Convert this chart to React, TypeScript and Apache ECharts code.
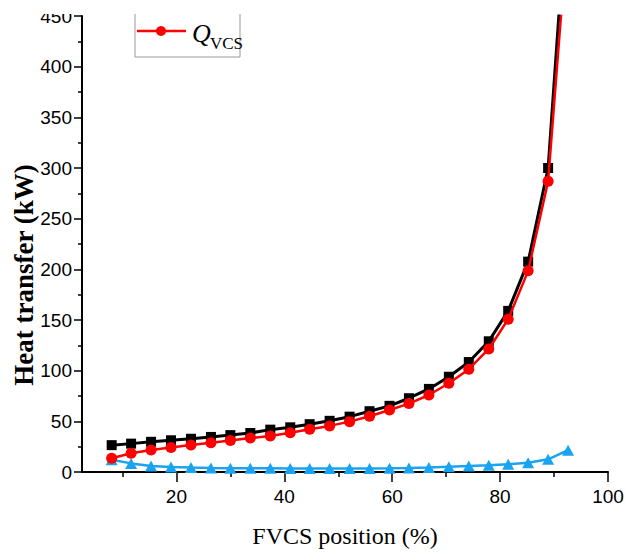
import React, { useEffect, useRef } from "react";
import * as echarts from "echarts";

// FVCS position (%) for each measured point
const positions = [8.0, 11.6, 15.3, 19.0, 22.7, 26.4, 30.0, 33.7, 37.4, 41.1, 44.7, 48.4, 52.1, 55.8, 59.5, 63.1, 66.8, 70.5, 74.2, 77.9, 81.5, 85.2, 88.9, 92.6];
// Heat transfer (kW)
const blackSeries = [26.5, 28.0, 29.8, 31.3, 32.8, 34.6, 36.4, 38.5, 41.8, 44.1, 47.2, 50.5, 54.6, 60.0, 65.3, 72.8, 82.0, 94.0, 108.5, 129.0, 159.0, 207.6, 300.0, 580.0];
const qVcs = [13.5, 18.5, 21.7, 24.2, 26.7, 28.9, 31.0, 33.5, 35.6, 38.8, 42.2, 45.5, 49.7, 55.0, 61.2, 67.5, 76.0, 87.6, 101.5, 121.4, 150.7, 198.5, 287.0, 540.0];
const blueSeries = [12.0, 8.5, 6.0, 5.0, 4.4, 4.0, 3.8, 3.7, 3.6, 3.5, 3.5, 3.5, 3.5, 3.5, 3.6, 3.9, 4.5, 5.2, 5.9, 6.6, 7.6, 9.2, 12.5, 21.5];

const xMajorTicks = [20, 40, 60, 80, 100];
const xMinorTicks = [10, 30, 50, 70, 90];

const pair = (ys: number[]) => positions.map((x, i) => [x, ys[i]]);

export default function App() {
  const ref = useRef<HTMLDivElement>(null);
  useEffect(() => {
    document.body.style.margin = "0";
    if (!ref.current) return;
    const chart = echarts.init(ref.current, null, { renderer: "svg" });
    const sans = '"Liberation Sans", Arial, sans-serif';
    const serif = '"Liberation Serif", "Times New Roman", serif';
    chart.setOption({
      animation: false,
      backgroundColor: "#fff",
      grid: { left: 82, right: 28, top: 16, bottom: 88, containLabel: false },
      xAxis: [
        {
          type: "value",
          min: 2.5,
          max: 100,
          position: "bottom",
          name: "FVCS position (%)",
          nameLocation: "middle",
          nameGap: 52,
          nameTextStyle: { fontFamily: serif, fontSize: 24, color: "#000" },
          axisLine: { show: true, onZero: false, lineStyle: { color: "#000", width: 2 } },
          axisTick: { show: true, customValues: xMajorTicks, length: 10, lineStyle: { color: "#000", width: 1.5 } },
          axisLabel: { customValues: xMajorTicks, fontFamily: sans, fontSize: 19, color: "#000", margin: 15 },
          splitLine: { show: false },
        },
        {
          type: "value",
          min: 2.5,
          max: 100,
          position: "bottom",
          axisLine: { show: false },
          axisTick: { show: true, customValues: xMinorTicks, length: 5, lineStyle: { color: "#000", width: 1.5 } },
          axisLabel: { show: false },
          splitLine: { show: false },
        },
      ],
      yAxis: {
        type: "value",
        min: 0,
        max: 450,
        interval: 50,
        axisLine: { show: true, lineStyle: { color: "#000", width: 2 } },
        axisTick: { show: true, length: 8, lineStyle: { color: "#000", width: 1.5 } },
        minorTick: { show: true, splitNumber: 2, length: 4, lineStyle: { color: "#000", width: 1.5 } },
        axisLabel: { fontFamily: sans, fontSize: 19, color: "#000", margin: 10 },
        splitLine: { show: false },
      },
      series: [
        {
          name: "Q total",
          type: "line",
          xAxisIndex: 0,
          data: pair(blackSeries),
          symbol: "rect",
          symbolSize: 10,
          lineStyle: { color: "#000", width: 3 },
          itemStyle: { color: "#000" },
          z: 2,
        },
        {
          name: "Q other",
          type: "line",
          xAxisIndex: 0,
          data: pair(blueSeries),
          symbol: "triangle",
          symbolSize: [12, 11],
          lineStyle: { color: "#1aa3f0", width: 2.5 },
          itemStyle: { color: "#1aa3f0" },
          z: 3,
        },
        {
          name: "QVCS",
          type: "line",
          xAxisIndex: 0,
          data: pair(qVcs),
          symbol: "circle",
          symbolSize: 11,
          lineStyle: { color: "#ff0000", width: 2.5 },
          itemStyle: { color: "#ff0000" },
          z: 4,
        },
      ],
      graphic: [
        {
          type: "text",
          x: 24,
          y: 275,
          rotation: Math.PI / 2,
          style: {
            text: "Heat transfer (kW)",
            font: 'bold 27px "Liberation Serif", "Times New Roman", serif',
            fill: "#000",
            align: "center",
            verticalAlign: "middle",
          },
        },
        {
          type: "rect",
          shape: { x: 135, y: 4, width: 105, height: 53 },
          style: { fill: "#fff", stroke: "#999", lineWidth: 1 },
          z: 10,
        },
        {
          type: "line",
          shape: { x1: 137, y1: 31, x2: 186, y2: 31 },
          style: { stroke: "#ff0000", lineWidth: 2.5 },
          z: 11,
        },
        {
          type: "circle",
          shape: { cx: 161, cy: 31, r: 5 },
          style: { fill: "#ff0000" },
          z: 12,
        },
        {
          type: "text",
          x: 192,
          y: 33,
          style: {
            text: "Q",
            font: 'italic 26px "Liberation Serif", "Times New Roman", serif',
            fill: "#000",
            verticalAlign: "middle",
          },
          z: 12,
        },
        {
          type: "text",
          x: 210,
          y: 43.5,
          style: {
            text: "VCS",
            font: '17px "Liberation Serif", "Times New Roman", serif',
            fill: "#000",
            verticalAlign: "middle",
          },
          z: 12,
        },
        {
          type: "rect",
          shape: { x: 0, y: 0, width: 636, height: 14 },
          style: { fill: "#fff" },
          z: 100,
        },
      ],
    });
    return () => chart.dispose();
  }, []);
  return <div ref={ref} style={{ position: "fixed", left: 0, top: 0, width: 636, height: 560 }} />;
}
